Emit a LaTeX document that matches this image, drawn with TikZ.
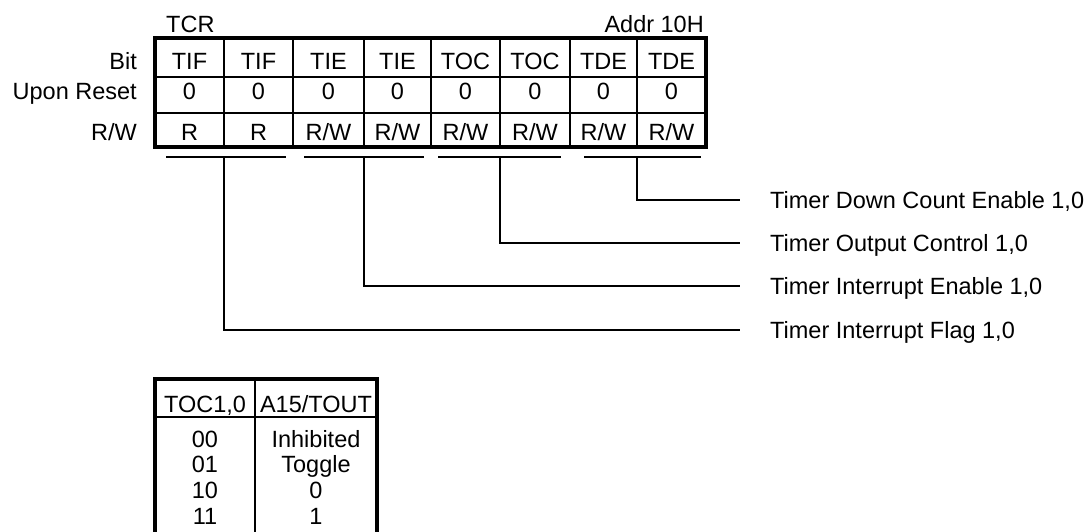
\documentclass[tikz,border=0pt]{standalone}
\usepackage{fontspec}
\setmainfont{Liberation Sans}
\begin{document}
\begin{tikzpicture}[x=1pt,y=-1pt,
  txt/.style={font=\fontsize{23.5}{28}\selectfont, inner sep=0pt},
  outer/.style={line width=4pt},
  rowsep/.style={line width=2.4pt},
  colsep/.style={line width=1.6pt},
  bar/.style={line width=2.2pt},
  conn/.style={line width=1.5pt},
  tabout/.style={line width=3.3pt},
  tabsep/.style={line width=2.6pt}]
\useasboundingbox (0,0) rectangle (1092,532);

% register title texts
\node[txt, anchor=base west] (tcr) at (166,33) {TCR};
\node[txt, anchor=base east] (addr) at (704,33) {Addr 10H};

% row labels
\node[txt, anchor=base east] (lbit) at (137,70) {Bit};
\node[txt, anchor=base east] (lrst) at (137,100) {Upon Reset};
\node[txt, anchor=base east] (lrw) at (137,140) {R/W};

% register grid
\foreach \x in {224,293,364,431,500,570,637}
  \draw[colsep] (\x,38) -- (\x,147);
\draw[rowsep] (155,77) -- (706,77);
\draw[rowsep] (155,113) -- (706,113);
\draw[outer] (155,38) rectangle (706,147);

% cell texts
\foreach \cx/\nm/\a/\b [count=\i] in {189.5/TIF/R/0, 258.5/TIF/R/0, 328.5/TIE/R\/W/0, 397.5/TIE/R\/W/0,
    465.5/TOC/R\/W/0, 535/TOC/R\/W/0, 603.5/TDE/R\/W/0, 671.5/TDE/R\/W/0}{
  \node[txt, anchor=base] (bit\i) at (\cx,70) {\nm};
  \node[txt, anchor=base] (rst\i) at (\cx,100) {0};
}
\node[txt, anchor=base] (rw1) at (189.5,140) {R};
\node[txt, anchor=base] (rw2) at (258.5,140) {R};
\node[txt, anchor=base] (rw3) at (328.5,140) {R/W};
\node[txt, anchor=base] (rw4) at (397.5,140) {R/W};
\node[txt, anchor=base] (rw5) at (465.5,140) {R/W};
\node[txt, anchor=base] (rw6) at (535,140) {R/W};
\node[txt, anchor=base] (rw7) at (603.5,140) {R/W};
\node[txt, anchor=base] (rw8) at (671.5,140) {R/W};

% bars under bit pairs
\draw[bar] (166,157) -- (286,157);
\draw[bar] (304,157) -- (424,157);
\draw[bar] (438,157) -- (561,157);
\draw[bar] (584,157) -- (701,157);

\coordinate (b1) at (224,157);
\coordinate (b2) at (364,157);
\coordinate (b3) at (500,157);
\coordinate (b4) at (637,157);

% labels on the right
\node[txt, anchor=base west] (tde) at (770,208) {Timer Down Count Enable 1,0};
\node[txt, anchor=base west] (toc) at (770,251) {Timer Output Control 1,0};
\node[txt, anchor=base west] (tie) at (770,294) {Timer Interrupt Enable 1,0};
\node[txt, anchor=base west] (tif) at (770,338) {Timer Interrupt Flag 1,0};

\coordinate (e4) at (740,200);
\coordinate (e3) at (740,243);
\coordinate (e2) at (740,286);
\coordinate (e1) at (740,330);

\draw[conn] (b4) |- (e4);
\draw[conn] (b3) |- (e3);
\draw[conn] (b2) |- (e2);
\draw[conn] (b1) |- (e1);

% TOC table
\draw[tabout] (155,536) -- (155,379) -- (377,379) -- (377,536);
\draw[tabsep] (155,417) -- (377,417);
\draw[tabsep] (255,379) -- (255,536);

\node[txt, anchor=base] (h1) at (205,412) {TOC1,0};
\node[txt, anchor=base] (h2) at (316,412) {A15/TOUT};
\node[txt, anchor=base] (c00) at (205,447) {00};
\node[txt, anchor=base] (c01) at (205,472) {01};
\node[txt, anchor=base] (c10) at (205,498) {10};
\node[txt, anchor=base] (c11) at (205,524) {11};
\node[txt, anchor=base] (v00) at (316,447) {Inhibited};
\node[txt, anchor=base] (v01) at (316,472) {Toggle};
\node[txt, anchor=base] (v10) at (316,498) {0};
\node[txt, anchor=base] (v11) at (316,524) {1};
\end{tikzpicture}
\end{document}
